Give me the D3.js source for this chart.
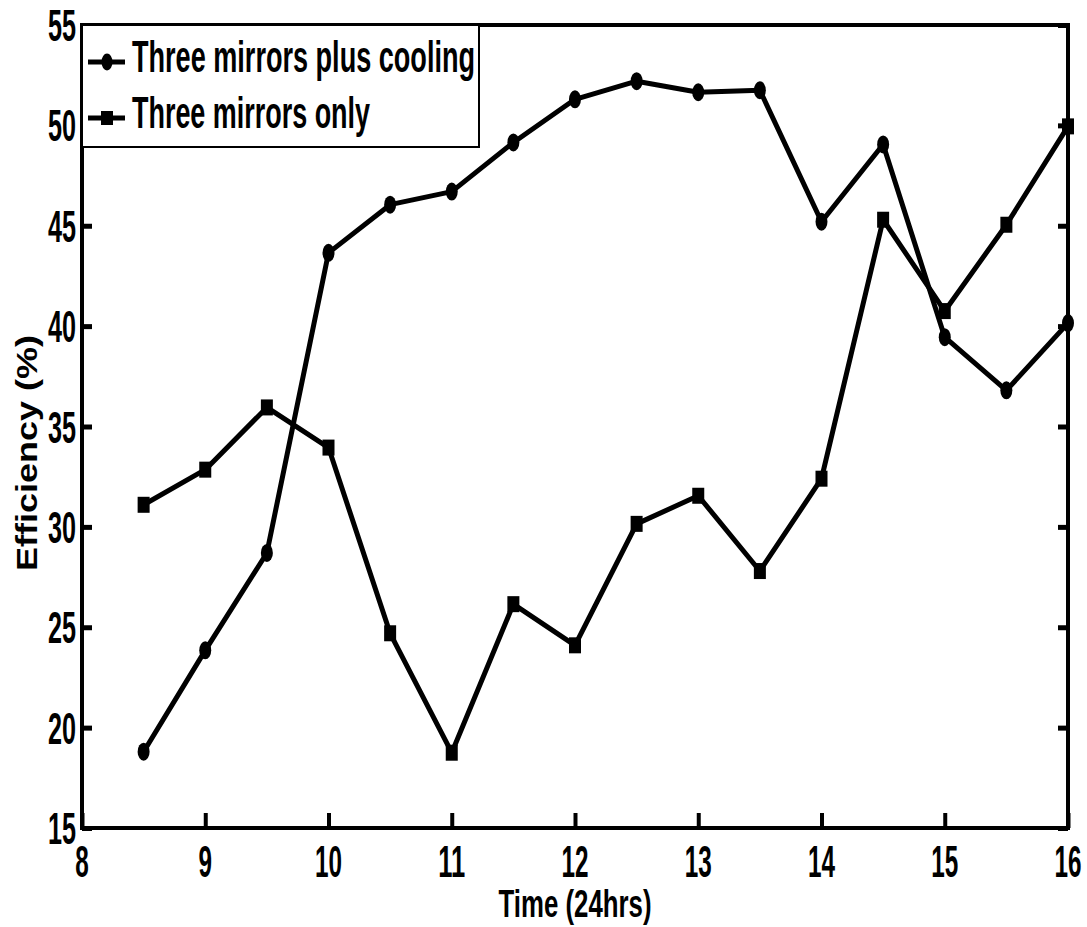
<!DOCTYPE html>
<html>
<head>
<meta charset="utf-8">
<script src="https://cdn.jsdelivr.net/npm/d3@7"></script>
<style>
	body { margin: 0; background: #fff; }
	svg { display: block; }
	text { font-family: "Liberation Sans Narrow", "Liberation Sans", Arial, sans-serif; font-weight: bold; fill: #000; }
</style>
</head>
<body>
<svg id="chart" width="1087" height="927"></svg>
<script>
// Data
const times = [8.5, 9, 9.5, 10, 10.5, 11, 11.5, 12, 12.5, 13, 13.5, 14, 14.5, 15, 15.5, 16];
const cooling = [18.8, 23.85, 28.7, 43.65, 46.05, 46.7, 49.15, 51.3, 52.2, 51.65, 51.75, 45.2, 49.05, 39.45, 36.8, 40.15];
const mirrorsOnly = [31.1, 32.85, 35.95, 33.95, 24.7, 18.75, 26.15, 24.1, 30.15, 31.55, 27.8, 32.4, 45.3, 40.75, 45.05, 49.95];
const xTicks = [8, 9, 10, 11, 12, 13, 14, 15, 16];
const yTicks = [15, 20, 25, 30, 35, 40, 45, 50, 55];
const seriesNames = ["Three mirrors plus cooling", "Three mirrors only"];

const plotLeft = 82, plotRight = 1068, plotTop = 25, plotBottom = 828;

const svg = d3.select("#chart");

const x = d3.scaleLinear().domain([8, 16]).range([plotLeft, plotRight]);
const y = d3.scaleLinear().domain([15, 55]).range([plotBottom, plotTop]);

// Ticks (inside the box)
svg.append("g")
	.attr("transform", `translate(0, ${plotBottom})`)
	.call(d3.axisBottom(x).tickValues(xTicks).tickSize(-15).tickFormat(""))
	.call(g => g.select(".domain").remove())
	.call(g => g.selectAll("line").attr("stroke", "#000").attr("stroke-width", 4));

svg.append("g")
	.attr("transform", `translate(${plotLeft}, 0)`)
	.call(d3.axisLeft(y).tickValues(yTicks).tickSize(-10).tickFormat(""))
	.call(g => g.select(".domain").remove())
	.call(g => g.selectAll("line").attr("stroke", "#000").attr("stroke-width", 5));

svg.append("g")
	.attr("transform", `translate(${plotRight}, 0)`)
	.call(d3.axisRight(y).tickValues(yTicks).tickSize(-10).tickFormat(""))
	.call(g => g.select(".domain").remove())
	.call(g => g.selectAll("line").attr("stroke", "#000").attr("stroke-width", 5));

// Box
svg.append("rect")
	.attr("x", plotLeft)
	.attr("y", plotTop)
	.attr("width", plotRight - plotLeft)
	.attr("height", plotBottom - plotTop)
	.attr("fill", "none")
	.attr("stroke", "#000")
	.attr("stroke-width", 4);

// Tick labels
svg.append("g")
	.selectAll("text")
	.data(xTicks)
	.join("text")
	.attr("x", d => x(d))
	.attr("y", 877)
	.attr("text-anchor", "middle")
	.style("font-size", "44px")
	.attr("textLength", d => String(d).length * 13.5)
	.attr("lengthAdjust", "spacingAndGlyphs")
	.text(d => d);

svg.append("g")
	.selectAll("text")
	.data(yTicks)
	.join("text")
	.attr("x", 76)
	.attr("y", d => y(d) + 16)
	.attr("text-anchor", "end")
	.style("font-size", "44px")
	.attr("textLength", 28)
	.attr("lengthAdjust", "spacingAndGlyphs")
	.text(d => d);

// Axis titles
svg.append("text")
	.attr("x", (plotLeft + plotRight) / 2)
	.attr("y", 917)
	.attr("text-anchor", "middle")
	.style("font-size", "38px")
	.attr("textLength", 153)
	.attr("lengthAdjust", "spacingAndGlyphs")
	.text("Time (24hrs)");

svg.append("text")
	.attr("transform", "translate(37, 453) rotate(-90)")
	.attr("text-anchor", "middle")
	.style("font-family", "'Liberation Sans', Arial, sans-serif")
	.style("font-size", "29px")
	.attr("textLength", 236)
	.attr("lengthAdjust", "spacingAndGlyphs")
	.text("Efficiency (%)");

// Lines
const line = d3.line()
	.x(d => x(d[0]))
	.y(d => y(d[1]));

const coolingPts = times.map((t, i) => [t, cooling[i]]);
const onlyPts = times.map((t, i) => [t, mirrorsOnly[i]]);

[coolingPts, onlyPts].forEach(pts => {
	svg.append("path")
		.datum(pts)
		.attr("d", line)
		.attr("fill", "none")
		.attr("stroke", "#000")
		.attr("stroke-width", 5)
		.attr("stroke-linejoin", "round");
});

// Markers
svg.append("g")
	.selectAll("ellipse")
	.data(coolingPts)
	.join("ellipse")
	.attr("cx", d => x(d[0]))
	.attr("cy", d => y(d[1]))
	.attr("rx", 6)
	.attr("ry", 9)
	.attr("fill", "#000");

svg.append("g")
	.selectAll("rect")
	.data(onlyPts)
	.join("rect")
	.attr("x", d => x(d[0]) - 6)
	.attr("y", d => y(d[1]) - 8)
	.attr("width", 12)
	.attr("height", 16)
	.attr("fill", "#000");

// Legend
const legend = svg.append("g");
legend.append("rect")
	.attr("x", plotLeft)
	.attr("y", plotTop)
	.attr("width", 479 - plotLeft)
	.attr("height", 147 - plotTop)
	.attr("fill", "#fff")
	.attr("stroke", "#000")
	.attr("stroke-width", 2);

const rows = [
	{ name: seriesNames[0], cy: 62, tx: 72, len: 343 },
	{ name: seriesNames[1], cy: 118, tx: 128, len: 238 }
];

legend.selectAll("line")
	.data(rows)
	.join("line")
	.attr("x1", 88)
	.attr("x2", 125)
	.attr("y1", d => d.cy)
	.attr("y2", d => d.cy)
	.attr("stroke", "#000")
	.attr("stroke-width", 5);

legend.append("ellipse")
	.attr("cx", 107)
	.attr("cy", rows[0].cy)
	.attr("rx", 5.5)
	.attr("ry", 8.5)
	.attr("fill", "#000");

legend.append("rect")
	.attr("x", 101)
	.attr("y", rows[1].cy - 7)
	.attr("width", 12)
	.attr("height", 14)
	.attr("fill", "#000");

legend.selectAll("text")
	.data(rows)
	.join("text")
	.attr("x", 132)
	.attr("y", d => d.tx)
	.style("font-size", "44px")
	.attr("textLength", d => d.len)
	.attr("lengthAdjust", "spacingAndGlyphs")
	.text(d => d.name);
</script>
</body>
</html>
